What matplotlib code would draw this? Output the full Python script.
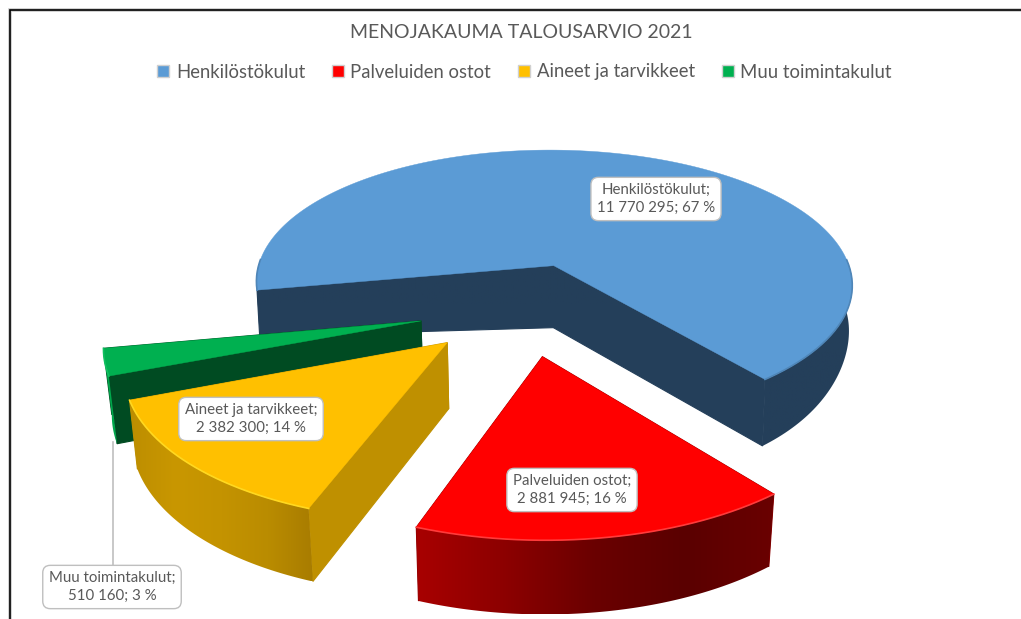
import numpy as np
import matplotlib
matplotlib.use('Agg')
import matplotlib.pyplot as plt
from matplotlib.patches import Patch, Polygon
from matplotlib.colors import LinearSegmentedColormap

plt.rcParams['font.family'] = ['Lato', 'DejaVu Sans']

# Data
categories = ["Henkilöstökulut", "Palveluiden ostot", "Aineet ja tarvikkeet", "Muu toimintakulut"]
values = [11770295, 2881945, 2382300, 510160]
title = "MENOJAKAUMA TALOUSARVIO 2021"

# Colours
top_colors = ['#5B9BD5', '#FF0000', '#FFC000', '#00B050']
face_colors = ['#243F5A', '#8C0000', '#BF9000', '#004B22']
rim_colors = ['#4F86B8', '#FF3B3B', '#FFD820', '#10C060']
arc_maps = [
    ['#243F5A', '#243F5A'],
    ['#A80000', '#8C0000', '#6A0000', '#5A0000', '#6A0000'],
    ['#BD8E00', '#C99700', '#C49300', '#BA8C00', '#A87C00'],
    ['#00A84C', '#00A84C'],
]
text_grey = '#595959'

# Projection of the tilted pie
start_angle = 190.5
explode = 0.33
cx, cy = 520, 308
scale_x, scale_y = 308, 142.7
persp = 0.14
edge_drop = [0.30, 0, 0, 0]
nudge_x = [0, 5, 1, 0]
shrink = [0.99, 0.98, 0.98, 0.98]


def project(X, Y, u=None, drop=0.0, sh=0.98):
    w = 1 + persp * Y
    x = cx + scale_x * X / w
    y = cy - scale_y * Y / w
    if u is not None:
        h = 62 * (1 - 0.12 * (Y - 0.31)) * (1 - drop * u ** 6)
        x = cx + (x - cx) * sh
        y = y + h
    return x, y


total = sum(values)
shares = [v / total for v in values]

fig = plt.figure(figsize=(10.21, 6.19), dpi=100)
ax = fig.add_axes([0, 0, 1, 1])

# Slices, drawn back to front: blue, green, yellow, red
angle_edges = start_angle - 360 * np.cumsum([0] + shares)
z = 2
for i in [0, 3, 2, 1]:
    a0, a1 = np.radians(angle_edges[i]), np.radians(angle_edges[i + 1])
    mid = (a0 + a1) / 2
    ox, oy = explode * np.cos(mid), explode * np.sin(mid)
    t = np.linspace(a0, a1, 240)
    X, Y = ox + np.cos(t), oy + np.sin(t)
    u = np.cos(t)
    xt, yt = project(X, Y)
    xb, yb = project(X, Y, u, edge_drop[i], shrink[i])
    tipx, tipy = project(np.array([ox]), np.array([oy]))
    tipbx, tipby = project(np.array([ox]), np.array([oy]), np.array([0.0]), 0.0, shrink[i])
    dx = nudge_x[i]

    # cut faces
    for e in [0, -1]:
        ax.fill(np.array([tipx[0], xt[e], xb[e], tipbx[0]]) + dx, [tipy[0], yt[e], yb[e], tipby[0]],
                color=face_colors[i], lw=0.8, zorder=z)
        z += 1

    # outer wall with its horizontal gradient
    wall = np.sin(t) < 0.05
    wall_pts = np.c_[np.r_[xt[wall], xb[wall][::-1]] + dx, np.r_[yt[wall], yb[wall][::-1]]]
    cmap = LinearSegmentedColormap.from_list('wall', arc_maps[i])
    im = ax.imshow(np.linspace(0, 1, 256)[None, :], cmap=cmap, aspect='auto', zorder=z,
                   extent=(wall_pts[:, 0].min(), wall_pts[:, 0].max(), wall_pts[:, 1].max(), wall_pts[:, 1].min()))
    im.set_clip_path(Polygon(wall_pts, transform=ax.transData))
    z += 1

    # top
    ax.fill(np.r_[tipx, xt] + dx, np.r_[tipy, yt], color=top_colors[i], lw=0.3, zorder=z)
    z += 1
    ax.plot(np.where(wall, xt + dx, np.nan), yt, color=rim_colors[i], lw=1.2, zorder=z)
    z += 1

ax.set_xlim(0, 1021)
ax.set_ylim(619, 0)
ax.axis('off')

# Data labels
label_pos = [(656, 199), (572, 490), (251, 419), (112, 587)]
ax.plot([113, 113], [442, 567], color='#BFBFBF', lw=1.2, zorder=1)
for name, val, share, pos in zip(categories, values, shares, label_pos):
    txt = f"{name};\n{val:,}".replace(',', ' ') + f"; {round(share * 100)} %"
    ax.text(pos[0], pos[1], txt, ha='center', va='center', fontsize=10.8, color=text_grey,
            linespacing=1.3, zorder=z,
            bbox=dict(boxstyle='round,pad=0.4,rounding_size=0.5', fc='white', ec='#BFBFBF', lw=1))

# Title, legend
ax.text(521, 33, title, ha='center', va='center', fontsize=14, color=text_grey)
handles = [Patch(facecolor=c, edgecolor='#D0D0D0', lw=1) for c in top_colors]
ax.legend(handles, categories, loc='center', bbox_to_anchor=(0.5137, 1 - 72 / 619), ncol=4, frameon=False,
          fontsize=13.35, labelcolor=text_grey, handlelength=0.65, handleheight=0.65, handletextpad=0.35,
          columnspacing=1.45)

# Chart frame
ax.plot([10, 10, 1021], [619, 9.5, 9.5], color='#C8C8C8', lw=2.6, zorder=z, solid_joinstyle='miter')
ax.plot([10, 10, 1021], [619, 9.5, 9.5], color='black', lw=1.2, zorder=z, solid_joinstyle='miter')

fig.savefig('out.png', dpi=100)
